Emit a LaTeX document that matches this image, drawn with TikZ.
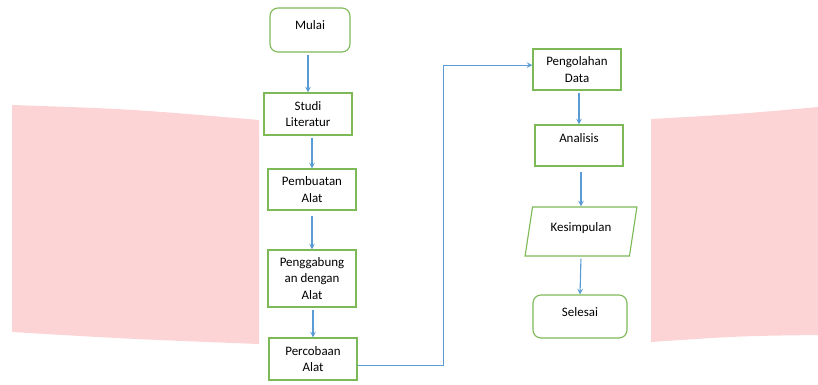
\documentclass[tikz,border=0pt]{standalone}
\usepackage{fontspec}
\setmainfont{Carlito}
\usetikzlibrary{shapes.geometric}
\definecolor{boxgreen}{HTML}{7DB956}
\definecolor{arrowblue}{HTML}{5B9BD5}
\definecolor{bandpink}{HTML}{FCD4D6}
\begin{document}
\begin{tikzpicture}[x=0.025cm, y=-0.025cm, >=stealth,
        box/.style={draw=boxgreen, line width=0.8pt, rectangle, align=center,
            minimum width=2.2cm, minimum height=1.05cm, inner sep=0pt,
            font=\fontsize{9.2}{11.7}\selectfont},
        startstop/.style={box, rounded corners=0.2cm},
        io/.style={box, trapezium, trapezium left angle=76, trapezium right angle=104,
            trapezium stretches=true},
        toptext/.style={text depth=7pt},
        flow/.style={->, draw=arrowblue, line width=0.8pt, shorten <=1.5pt}]
        \useasboundingbox (0,0) rectangle (818,384);

        \fill[bandpink] (12,105) .. controls (130,109) .. (259,120)
            -- (259,344) .. controls (130,339) .. (12,332) -- cycle;
        \fill[bandpink] (651,119) .. controls (740,114) .. (818,107)
            -- (818,335) .. controls (740,336) .. (651,342) -- cycle;

        \node[startstop, toptext, minimum width=2cm, minimum height=1.1cm] (mulai) at (310,30) {Mulai};
        \node[box] (studi) at (308,114) {Studi\\Literatur};
        \node[box, minimum height=1.025cm] (pembuatan) at (312,189.5) {Pembuatan\\Alat};
        \node[box, minimum height=1.425cm] (penggabungan) at (312,278.5) {Penggabung\\an dengan\\Alat};
        \node[box] (percobaan) at (313,359) {Percobaan\\Alat};

        \node[box, minimum height=1.025cm] (pengolahan) at (577,69.5) {Pengolahan\\Data};
        \node[box, text depth=10pt, minimum height=1.025cm] (analisis) at (579,145.5) {Analisis};
        \node[io, toptext, minimum width=2.8cm, minimum height=1.225cm] (kesimpulan) at (581,231.5) {Kesimpulan};
        \node[startstop, toptext, minimum width=2.35cm, minimum height=1.075cm] (selesai) at (580,316.5) {Selesai};

        \draw[flow] (mulai.south -| studi.north) -- (studi.north);
        \draw[flow] (studi.south -| pembuatan.north) -- (pembuatan.north);
        \draw[flow, shorten <=4pt] (pembuatan.south) -- (penggabungan.north);
        \draw[flow] (penggabungan.south -| percobaan.north) -- (percobaan.north);
        \draw[flow, shorten <=0pt] ([yshift=-0.17cm]percobaan.east) -- ++(86,0)
            |- ([yshift=0.11cm]pengolahan.west);
        \draw[flow] (pengolahan.south -| analisis.north) -- (analisis.north);
        \draw[flow, shorten <=4pt] (analisis.south -| kesimpulan.north) -- (kesimpulan.north);
        \draw[flow] (kesimpulan.south) -- (selesai.north);
    \end{tikzpicture}
\end{document}
